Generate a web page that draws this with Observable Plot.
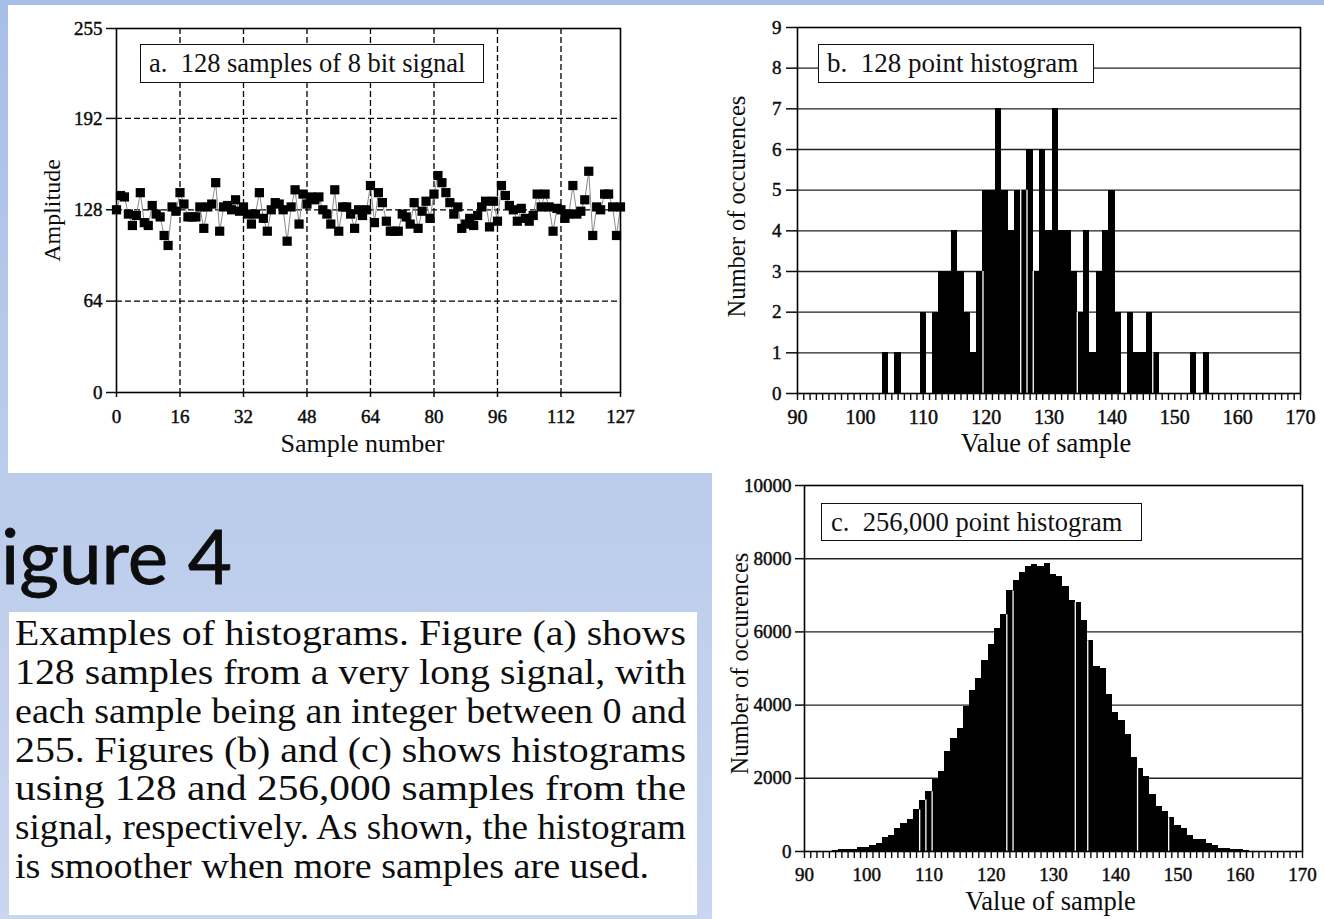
<!DOCTYPE html>
<html><head><meta charset="utf-8">
<script src="https://cdn.jsdelivr.net/npm/d3@7"></script>
<script src="https://cdn.jsdelivr.net/npm/@observablehq/plot@0.6"></script>
<style>
html,body{margin:0;padding:0;background:#fff;}
#root{position:relative;width:1324px;height:919px;overflow:hidden;background:linear-gradient(180deg,#a7bee9 0%,#b9cbeb 45%,#c8d6ef 100%);font-family:"Liberation Serif",serif;}
.panel{position:absolute;background:#fff;}
.chart{position:absolute;}
.chart g[aria-label$="tick label"] text{stroke:#0c0c0c;stroke-width:0.45px;}
.tbox{position:absolute;background:#fff;border:1.6px solid #111;box-sizing:border-box;font-family:"Liberation Serif",serif;color:#111;white-space:pre;display:flex;align-items:center;line-height:1;}
</style></head>
<body><div id="root"></div>
<script>
// ---------- DATA ----------
// (a) 128 samples of an 8 bit signal (sample number 0..127)
const aSamples = [128,138,137,125,117,124,140,119,117,131,125,123,110,103,130,127,
140,132,123,123,123,130,115,130,132,147,113,130,131,128,135,127,
130,125,118,125,140,122,113,128,133,132,128,106,130,142,118,139,
132,137,135,137,128,125,118,142,113,130,130,125,115,128,124,128,
145,119,140,133,120,113,113,113,125,123,118,133,115,127,134,122,
139,152,147,140,133,125,130,115,118,122,117,124,130,134,116,134,
120,145,138,131,128,120,129,122,120,124,139,130,139,130,113,129,
128,122,125,145,125,127,135,155,110,130,128,139,139,130,110,130];
const aXTicks = [0,16,32,48,64,80,96,112,127];
const aGridX = [16,32,48,64,80,96,112];
const aYTicks = [0,64,128,192,255];
const aGridY = [64,128,192];

// (b) 128 point histogram
const bValues = [104,105,106,107,108,109,110,111,112,113,114,115,116,117,118,119,120,121,122,123,124,125,126,127,128,129,130,131,132,133,134,135,136,137,138,139,140,141,142,143,144,145,146,147,148,149,150,151,152,153,154,155];
const bCounts = [1,0,1,0,0,0,2,0,2,3,3,4,3,2,1,3,5,5,7,5,4,5,5,6,3,6,4,7,4,4,3,2,4,1,3,4,5,2,0,2,1,1,2,1,0,0,0,0,0,1,0,1];
const bGaps = [119.5,125.5,126.5,127.5,134.5,146.5];
const bXLabels = [90,100,110,120,130,140,150,160,170];
const bYTicks = [0,1,2,3,4,5,6,7,8,9];
const bGridY = [1,2,3,4,5,6,7,8];

// (c) 256,000 point histogram (values 90..170)
const cValues = d3.range(90,171);
const cCounts = [0,0,0,0,0,20,50,50,60,100,
120,165,227,390,435,617,753,880,1134,1406,
1633,1977,2177,2721,3084,3374,3964,4399,4735,5215,
5651,6095,6467,7120,7392,7619,7782,7836,7800,7873,
7573,7501,7229,6848,6803,6304,5759,5061,5007,4290,
3791,3583,3202,2558,2268,2059,1569,1243,1088,925,
707,617,435,336,317,227,163,91,91,45,
45,20,0,0,0,0,0,0,0,0,0];
const cGaps = [108.5,109.5,110.5,122.5,123.5,133.5,135.5,143.5,148.5];
const cXLabels = [90,100,110,120,130,140,150,160,170];
const cYTicks = [0,2000,4000,6000,8000,10000];
const cGridY = [2000,4000,6000,8000];

const captionLines = [
"Examples of histograms. Figure (a) shows",
"128 samples from a very long signal, with",
"each sample being an integer between 0 and",
"255.  Figures (b) and (c) shows histograms",
"using 128 and 256,000 samples from the",
"signal, respectively. As shown, the histogram",
"is smoother when more samples are used."
];

// ---------- LAYOUT ----------
const root = document.getElementById("root");
function panel(l,t,w,h){const d=document.createElement("div");d.className="panel";Object.assign(d.style,{left:l+"px",top:t+"px",width:w+"px",height:h+"px"});root.appendChild(d);}
panel(8,5,1316,468);
panel(712,470,612,449);
panel(9,612,688,303);

function place(node,l,t){const w=document.createElement("div");w.className="chart";w.style.left=l+"px";w.style.top=t+"px";w.appendChild(node);root.appendChild(w);}
function tbox(text,l,t,w,h,pl,fs){const d=document.createElement("div");d.className="tbox";Object.assign(d.style,{left:l+"px",top:t+"px",width:w+"px",height:h+"px",paddingLeft:pl+"px",fontSize:fs+"px"});d.textContent=text;root.appendChild(d);}

const ink = "#0c0c0c";
const baseStyle = (fs)=>({background:"transparent", fontFamily:"'Liberation Serif', serif", fontSize:fs+"px", color:ink, overflow:"visible"});
const fmt = d => String(d);

// ---------- (a) ----------
const aData = aSamples.map((v,i)=>({i, v}));
const chartA = Plot.plot({
  width:680, height:470, marginLeft:116, marginRight:60, marginTop:28, marginBottom:78,
  style:baseStyle(19),
  x:{domain:[0,127]}, y:{domain:[0,255]},
  marks:[
    Plot.gridX({ticks:aGridX, stroke:"#000", strokeOpacity:1, strokeWidth:1.3, strokeDasharray:"6,3"}),
    Plot.gridY({ticks:aGridY, stroke:"#000", strokeOpacity:1, strokeWidth:1.3, strokeDasharray:"6,3"}),
    Plot.line(aData, {x:"i", y:"v", stroke:"#8a8a8a", strokeWidth:1}),
    Plot.dot(aData, {x:"i", y:"v", symbol:"square", r:5.2, fill:"#000", stroke:"none"}),
    Plot.frame({stroke:"#000", strokeWidth:1.6}),
    Plot.axisX({ticks:aXTicks, tickFormat:fmt, tickSize:5, tickPadding:12, fontSize:19, label:null, strokeWidth:1.5}),
    Plot.axisY({ticks:aYTicks, tickFormat:fmt, tickSize:10, tickPadding:4, fontSize:19, label:null, strokeWidth:1.5}),
    Plot.text(["Amplitude"], {text:d=>d, frameAnchor:"left", textAnchor:"middle", lineAnchor:"middle", rotate:-90, dx:-64, fontSize:24, fill:ink}),
    Plot.text(["Sample number"], {text:d=>d, frameAnchor:"bottom", textAnchor:"middle", lineAnchor:"middle", dx:-6, dy:51, fontSize:26, fill:ink})
  ]
});
place(chartA,0,0);
tbox("a.  128 samples of 8 bit signal",140,44,344,39,8,26.5);

// ---------- (b) ----------
const bData = bValues.map((v,k)=>({v, n:bCounts[k]}));
const bCount = new Map(bData.map(d=>[d.v,d.n]));
const bGapData = bGaps.map(g=>({g, top:Math.min(bCount.get(g-0.5)||0, bCount.get(g+0.5)||0)})).filter(d=>d.top>0);
const chartB = Plot.plot({
  width:644, height:470, marginLeft:117, marginRight:24, marginTop:27, marginBottom:77,
  style:baseStyle(20),
  x:{domain:[90,170]}, y:{domain:[0,9]},
  marks:[
    Plot.gridY({ticks:bGridY, stroke:"#222", strokeOpacity:1, strokeWidth:1.4}),
    Plot.rectY(bData.filter(d=>d.n>0), {x1:d=>d.v-0.5, x2:d=>d.v+0.5, y:"n", fill:"#000", inset:0, shapeRendering:"crispEdges"}),
    Plot.ruleX(bGapData, {x:"g", y1:0, y2:"top", stroke:"#fff", strokeWidth:1.3}),
    Plot.frame({stroke:"#000", strokeWidth:1.6}),
    Plot.axisX({ticks:d3.range(90,171), tickFormat:()=>"", tickSize:7, label:null, strokeWidth:1.4}),
    Plot.axisX({ticks:bXLabels, tickFormat:fmt, tickSize:0, tickPadding:16, fontSize:20, label:null}),
    Plot.axisY({ticks:bYTicks, tickFormat:fmt, tickSize:11, tickPadding:5, fontSize:19, label:null, strokeWidth:1.5}),
    Plot.text(["Number of occurences"], {text:d=>d, frameAnchor:"left", textAnchor:"middle", lineAnchor:"middle", rotate:-90, dx:-60, dy:-4, fontSize:24.5, fill:ink}),
    Plot.text(["Value of sample"], {text:d=>d, frameAnchor:"bottom", textAnchor:"middle", lineAnchor:"middle", dx:-3, dy:50, fontSize:26.5, fill:ink})
  ]
});
place(chartB,680,0);
tbox("b.  128 point histogram",818,44,276,39,8,27);

// ---------- (c) ----------
const cData = cValues.map((v,k)=>({v, n:cCounts[k]}));
const cCount = new Map(cData.map(d=>[d.v,d.n]));
const cGapData = cGaps.map(g=>({g, top:Math.min(cCount.get(g-0.5)||0, cCount.get(g+0.5)||0)})).filter(d=>d.top>0);
const chartC = Plot.plot({
  width:612, height:449, marginLeft:92, marginRight:22, marginTop:15, marginBottom:68,
  style:{...baseStyle(19), background:"#fff"},
  x:{domain:[90,170]}, y:{domain:[0,10000]},
  marks:[
    Plot.gridY({ticks:cGridY, stroke:"#222", strokeOpacity:1, strokeWidth:1.4}),
    Plot.rectY(cData.filter(d=>d.n>0), {x1:d=>d.v-0.5, x2:d=>d.v+0.5, y:"n", fill:"#000", inset:0, shapeRendering:"crispEdges"}),
    Plot.ruleX(cGapData, {x:"g", y1:0, y2:"top", stroke:"#fff", strokeWidth:1.3}),
    Plot.frame({stroke:"#000", strokeWidth:1.6}),
    Plot.axisX({ticks:d3.range(90,171), tickFormat:()=>"", tickSize:7, label:null, strokeWidth:1.4}),
    Plot.axisX({ticks:cXLabels, tickFormat:fmt, tickSize:0, tickPadding:16, fontSize:19, label:null}),
    Plot.axisY({ticks:cYTicks, tickFormat:fmt, tickSize:9, tickPadding:4, fontSize:19, label:null, strokeWidth:1.5}),
    Plot.text(["Number of occurences"], {text:d=>d, frameAnchor:"left", textAnchor:"middle", lineAnchor:"middle", rotate:-90, dx:-64, dy:-5, fontSize:24.5, fill:ink}),
    Plot.text(["Value of sample"], {text:d=>d, frameAnchor:"bottom", textAnchor:"middle", lineAnchor:"middle", dx:-3, dy:50, fontSize:26.5, fill:ink})
  ]
});
place(chartC,712,470);
tbox("c.  256,000 point histogram",821,503,321,38,9,26.5);

// ---------- Slide text ----------
const NS = "http://www.w3.org/2000/svg";
const over = document.createElementNS(NS,"svg");
over.setAttribute("width",1324); over.setAttribute("height",919);
over.style.position="absolute"; over.style.left="0"; over.style.top="0"; over.style.pointerEvents="none";
function addText(str,x,y,size,family,len){
  const t=document.createElementNS(NS,"text");
  t.setAttribute("x",x); t.setAttribute("y",y);
  t.setAttribute("font-size",size); t.setAttribute("font-family",family); t.setAttribute("fill","#0d0d0d");
  if(len){t.setAttribute("textLength",len); t.setAttribute("lengthAdjust","spacingAndGlyphs");}
  t.textContent=str; over.appendChild(t);
  return t;
}
const title = addText("igure 4", 1, 584, 76, "Lato, 'Open Sans', sans-serif", 231);
title.setAttribute("stroke","#0d0d0d"); title.setAttribute("stroke-width","0.8");
const baselines = [645,684,723,762,800,839,878];
captionLines.forEach((s,k)=>addText(s, 15, baselines[k], 36, "'Liberation Serif', serif", k<6?671:634));
root.appendChild(over);
</script>
</body></html>
